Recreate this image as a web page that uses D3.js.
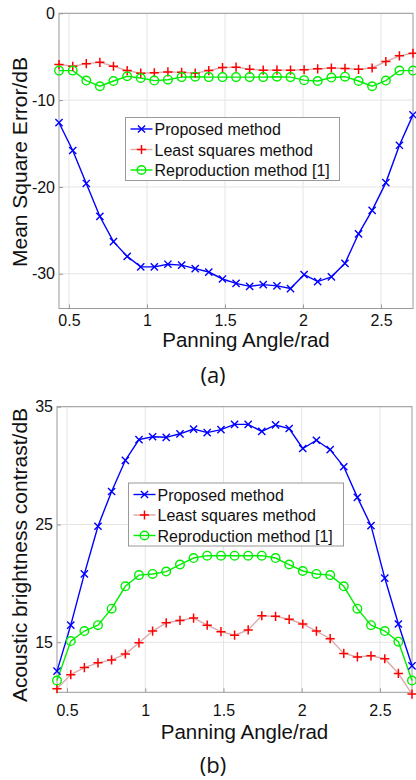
<!DOCTYPE html>
<html>
<head>
<meta charset="utf-8">
<script src="https://cdn.jsdelivr.net/npm/d3@7"></script>
<style>
  body { margin: 0; background: #fff; }
  svg { display: block; font-family: "Liberation Sans", Arial, sans-serif; }
</style>
</head>
<body>
<div id="chart"></div>
<script>
// panning angles (rad), 25deg .. 155deg
const angles = [0.436, 0.524, 0.611, 0.698, 0.785, 0.873, 0.960, 1.047, 1.134, 1.222,
  1.309, 1.396, 1.484, 1.571, 1.658, 1.745, 1.833, 1.920, 2.007, 2.094,
  2.182, 2.269, 2.356, 2.443, 2.531, 2.618, 2.705];

const seriesNames = ["Proposed method", "Least squares method", "Reproduction method [1]"];

// (a) mean square error
const mseProposed = [-12.6, -15.8, -19.6, -23.4, -26.3, -28.0, -29.2, -29.2, -28.9, -29.0,
  -29.4, -29.8, -30.6, -31.1, -31.45, -31.25, -31.4, -31.7, -30.1, -30.9,
  -30.35, -28.8, -25.4, -22.7, -19.5, -15.2, -11.7];
const mseLeast = [-5.9, -6.1, -5.8, -5.65, -6.1, -6.6, -6.9, -6.85, -6.75, -6.8,
  -6.9, -6.6, -6.25, -6.2, -6.45, -6.55, -6.55, -6.55, -6.5, -6.4,
  -6.3, -6.35, -6.45, -6.3, -5.55, -4.9, -4.6];
const mseRepro = [-6.6, -6.6, -7.75, -8.4, -7.8, -7.25, -7.45, -7.75, -7.65, -7.35,
  -7.3, -7.35, -7.35, -7.35, -7.35, -7.35, -7.3, -7.35, -7.7, -7.8,
  -7.4, -7.3, -7.8, -8.4, -7.75, -6.6, -6.6];

// (b) acoustic brightness contrast
const abcProposed = [12.55, 16.45, 20.8, 24.85, 27.8, 30.45, 32.2, 32.45, 32.4, 32.7,
  33.1, 32.8, 33.05, 33.5, 33.5, 32.9, 33.45, 33.15, 31.45, 32.15,
  31.35, 29.9, 27.3, 24.9, 20.45, 16.55, 13.0];
const abcLeast = [11.05, 12.25, 12.85, 13.25, 13.5, 14.0, 14.95, 15.95, 16.65, 16.85,
  17.05, 16.45, 15.9, 15.6, 16.05, 17.25, 17.2, 16.95, 16.55, 15.95,
  15.3, 14.05, 13.75, 13.85, 13.6, 12.35, 10.6];
const abcRepro = [11.75, 15.1, 15.95, 16.45, 17.85, 19.75, 20.7, 20.8, 21.0, 21.6,
  22.15, 22.35, 22.35, 22.35, 22.35, 22.35, 22.15, 21.6, 21.05, 20.8,
  20.7, 19.75, 17.85, 16.45, 15.95, 15.05, 11.75];

const xTicks = [0.5, 1, 1.5, 2, 2.5];
const mseTicks = [0, -10, -20, -30];
const abcTicks = [15, 25, 35];

const W = 416, H = 780;
const svg = d3.select("#chart").append("svg").attr("width", W).attr("height", H);
svg.append("rect").attr("width", W).attr("height", H).attr("fill", "#fff");

const styles = [
  { line: "#0000ff", mark: "#0000ff", shape: "x" },
  { line: "#dcaaaa", mark: "#ff0000", shape: "+" },
  { line: "#00ee00", mark: "#00ee00", shape: "o" }
];

function marker(g, shape, color, cx, cy) {
  if (shape === "x") {
    const s = 3.6;
    g.append("path").attr("d", `M${cx - s},${cy - s}L${cx + s},${cy + s}M${cx - s},${cy + s}L${cx + s},${cy - s}`)
      .attr("stroke", color).attr("stroke-width", 1.4).attr("fill", "none");
  } else if (shape === "+") {
    const s = 4.6;
    g.append("path").attr("d", `M${cx - s},${cy}L${cx + s},${cy}M${cx},${cy - s}L${cx},${cy + s}`)
      .attr("stroke", color).attr("stroke-width", 1.5).attr("fill", "none");
  } else {
    g.append("circle").attr("cx", cx).attr("cy", cy).attr("r", 4.3)
      .attr("stroke", color).attr("stroke-width", 1.4).attr("fill", "none");
  }
}

function drawPanel(opt) {
  const x = d3.scaleLinear().domain([angles[0], angles[angles.length - 1]]).range([opt.left, opt.right]);
  const y = d3.scaleLinear().domain(opt.yDomain).range([opt.bottom, opt.top]);
  const g = svg.append("g");

  // grid
  g.selectAll(".gx").data(xTicks).join("line")
    .attr("x1", d => x(d)).attr("x2", d => x(d)).attr("y1", opt.top).attr("y2", opt.bottom)
    .attr("stroke", "#e4e4e4").attr("stroke-width", 1);
  g.selectAll(".gy").data(opt.yTicks).join("line")
    .attr("x1", opt.left).attr("x2", opt.right).attr("y1", d => y(d)).attr("y2", d => y(d))
    .attr("stroke", "#e4e4e4").attr("stroke-width", 1);

  // box
  g.append("rect").attr("x", opt.left).attr("y", opt.top)
    .attr("width", opt.right - opt.left).attr("height", opt.bottom - opt.top)
    .attr("fill", "none").attr("stroke", "#9a9a9a").attr("stroke-width", 1);

  // axes (ticks inside, like the original)
  const fmt = d => (d < 0 ? "-" + Math.abs(d) : String(d));
  const xa = g.append("g").attr("transform", `translate(0,${opt.bottom})`)
    .call(d3.axisBottom(x).tickValues(xTicks).tickFormat(fmt).tickSizeInner(-4).tickSizeOuter(0).tickPadding(opt.xPad));
  const ya = g.append("g").attr("transform", `translate(${opt.left},0)`)
    .call(d3.axisLeft(y).tickValues(opt.yTicks).tickFormat(fmt).tickSizeInner(-4).tickSizeOuter(0).tickPadding(4));
  [xa, ya].forEach(a => {
    a.select(".domain").remove();
    a.selectAll("line").attr("stroke", "#9a9a9a");
    a.selectAll("text").attr("fill", "#111").style("font-size", "16px")
      .style("font-family", "'Liberation Sans', Arial, sans-serif");
  });

  // series
  const line = d3.line().x((d, i) => x(angles[i])).y(d => y(d));
  opt.series.forEach((vals, k) => {
    g.append("path").attr("d", line(vals)).attr("fill", "none")
      .attr("stroke", styles[k].line).attr("stroke-width", 1.4);
  });
  opt.series.forEach((vals, k) => {
    vals.forEach((v, i) => marker(g, styles[k].shape, styles[k].mark, x(angles[i]), y(v)));
  });

  // axis titles
  g.append("text").attr("x", (opt.left + opt.right) / 2 + 10).attr("y", opt.bottom + opt.titleGap)
    .attr("text-anchor", "middle").style("font-size", "20.5px").attr("fill", "#111")
    .text("Panning Angle/rad");
  g.append("text").attr("transform", `translate(27,${opt.yLabelY}) rotate(-90)`)
    .attr("text-anchor", "middle").style("font-size", "21px").attr("fill", "#111")
    .text(opt.yLabel);

  // legend
  const lg = g.append("g").attr("transform", `translate(${opt.legX},${opt.legY})`);
  lg.append("rect").attr("width", opt.legW).attr("height", 63)
    .attr("fill", "#fff").attr("stroke", "#9a9a9a").attr("stroke-width", 1);
  seriesNames.forEach((name, k) => {
    const cy = 11.5 + k * 20.5;
    lg.append("line").attr("x1", 5).attr("x2", 27).attr("y1", cy).attr("y2", cy)
      .attr("stroke", styles[k].line).attr("stroke-width", 1.4);
    marker(lg, styles[k].shape, styles[k].mark, 16, cy);
    lg.append("text").attr("x", 29).attr("y", cy + 6).style("font-size", "16px")
      .attr("fill", "#111").text(name);
  });

  // caption
  svg.append("text").attr("x", 213).attr("y", opt.captionY).attr("text-anchor", "middle")
    .style("font-family", "'Open Sans', 'Noto Sans', sans-serif").style("font-size", "22px")
    .attr("fill", "#111").text(opt.caption);
}

drawPanel({
  left: 59, right: 413, top: 13.3, bottom: 308.5,
  yDomain: [-34, 0], yTicks: mseTicks,
  series: [mseProposed, mseLeast, mseRepro],
  xPad: 6, titleGap: 38,
  yLabel: "Mean Square Error/dB", yLabelY: 162,
  legX: 125.5, legY: 117.5, legW: 214,
  caption: "(a)", captionY: 383
});

drawPanel({
  left: 57, right: 412, top: 406.7, bottom: 692.3,
  yDomain: [10.75, 35], yTicks: abcTicks,
  series: [abcProposed, abcLeast, abcRepro],
  xPad: 12, titleGap: 46.5,
  yLabel: "Acoustic brightness contrast/dB", yLabelY: 555,
  legX: 128.5, legY: 483, legW: 215,
  caption: "(b)", captionY: 773
});
</script>
</body>
</html>
